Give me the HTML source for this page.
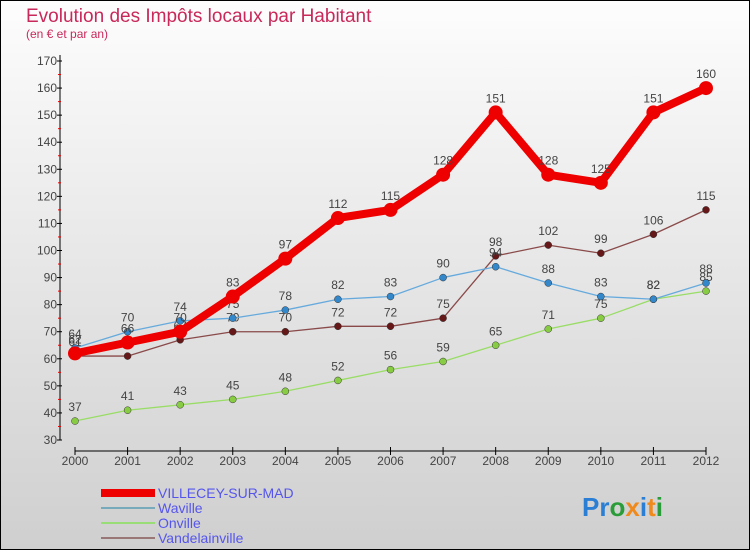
<!DOCTYPE html>
<html><head><meta charset="utf-8"><style>
body{margin:0}
#c{width:750px;height:550px;position:relative;background:linear-gradient(#fdfdfd,#cfcfcf);box-sizing:border-box;border:1px solid #000;font-family:"Liberation Sans",sans-serif;overflow:hidden}
</style></head><body>
<div id="c">
<svg id="s" width="750" height="550" style="position:absolute;left:-1px;top:-1px">
<text x="26" y="22" font-size="19" fill="#c8285a">Evolution des Impôts locaux par Habitant</text>
<text x="26" y="38" font-size="12" fill="#c8285a">(en € et par an)</text>
<g id="axes"></g><g id="series"></g>
<g>
<rect x="101" y="489" width="54" height="8" fill="#e00"/>
<text x="158" y="498" font-size="14" fill="#5555ee">VILLECEY-SUR-MAD</text>
<rect x="101" y="507" width="54" height="2" fill="#7ab"/>
<text x="158" y="513" font-size="14" fill="#5555ee">Waville</text>
<rect x="101" y="522" width="54" height="2" fill="#9d7"/>
<text x="158" y="528" font-size="14" fill="#5555ee">Onville</text>
<rect x="101" y="537" width="54" height="2" fill="#977"/>
<text x="158" y="543" font-size="14" fill="#5555ee">Vandelainville</text>
</g>
<text x="582" y="516" font-size="26" font-weight="bold"><tspan fill="#2a7fd4">Pr</tspan><tspan fill="#2a9d3a">o</tspan><tspan fill="#f08a1c">x</tspan><tspan fill="#2a7fd4">i</tspan><tspan fill="#f08a1c">t</tspan><tspan fill="#2a9d3a">i</tspan></text>
</svg></div>
<script>
const years=[2000,2001,2002,2003,2004,2005,2006,2007,2008,2009,2010,2011,2012];
const yTicks=[30,40,50,60,70,80,90,100,110,120,130,140,150,160,170];
const villecey=[62,66,70,83,97,112,115,128,151,128,125,151,160];
const waville=[64,70,74,75,78,82,83,90,94,88,83,82,88];
const onville=[37,41,43,45,48,52,56,59,65,71,75,82,85];
const vandelainville=[61,61,67,70,70,72,72,75,98,102,99,106,115];
const NS="http://www.w3.org/2000/svg";
const X=i=>75+i*(706-75)/12;
const Y=v=>440-(v-30)*(440-61)/140;
function mk(p,t,a){const e=document.createElementNS(NS,t);for(const k in a)e.setAttribute(k,a[k]);p.appendChild(e);return e;}
const ax=document.getElementById('axes');
let yl=mk(ax,'line',{x1:60,y1:55,x2:60,y2:440,stroke:'#000'});


yTicks.forEach(v=>{
 mk(ax,'line',{x1:57,y1:Y(v),x2:62,y2:Y(v),stroke:'#000'});
 if(v<170)mk(ax,'line',{x1:58,y1:Y(v+5),x2:61,y2:Y(v+5),stroke:'#e00'});
 const t=mk(ax,'text',{x:57,y:Y(v)+4,'font-size':12,fill:'#444','text-anchor':'end'});
 t.textContent=v;
 
 
});
let xl=mk(ax,'line',{x1:75,y1:451,x2:706,y2:451,stroke:'#000'});


years.forEach((y,i)=>{
 mk(ax,'line',{x1:X(i),y1:447,x2:X(i),y2:455,stroke:'#000'});
 const t=mk(ax,'text',{x:X(i),y:465,'font-size':12,fill:'#444','text-anchor':'middle'});
 t.textContent=y;
 
 
});
const sg=document.getElementById('series');
function draw(name,data,col,dot,w,r){
 const g=mk(sg,'g',{});
 
 
 const pl=mk(g,'polyline',{points:data.map((v,i)=>X(i)+','+Y(v)).join(' '),fill:'none',stroke:col,'stroke-width':w,'stroke-linejoin':'round'});
 
 
 data.forEach((v,i)=>{
  const c=mk(g,'circle',{cx:X(i),cy:Y(v),r:r,fill:dot,stroke:'#333','stroke-width':w>5?0:0.5});
  
  
  const t=mk(g,'text',{x:X(i),y:Y(v)-10,'font-size':12,fill:'#444','text-anchor':'middle'});
  t.textContent=v;
  
  
 });
}
draw('onville',onville,'#99dd66','#88cc44',1.3,3.5);
draw('vandelainville',vandelainville,'#8a4a4a','#661818',1.3,3.5);
draw('waville',waville,'#66aadd','#3388cc',1.3,3.5);
draw('villecey',villecey,'#ee0000','#ee0000',8,7);
</script>
</body></html>
